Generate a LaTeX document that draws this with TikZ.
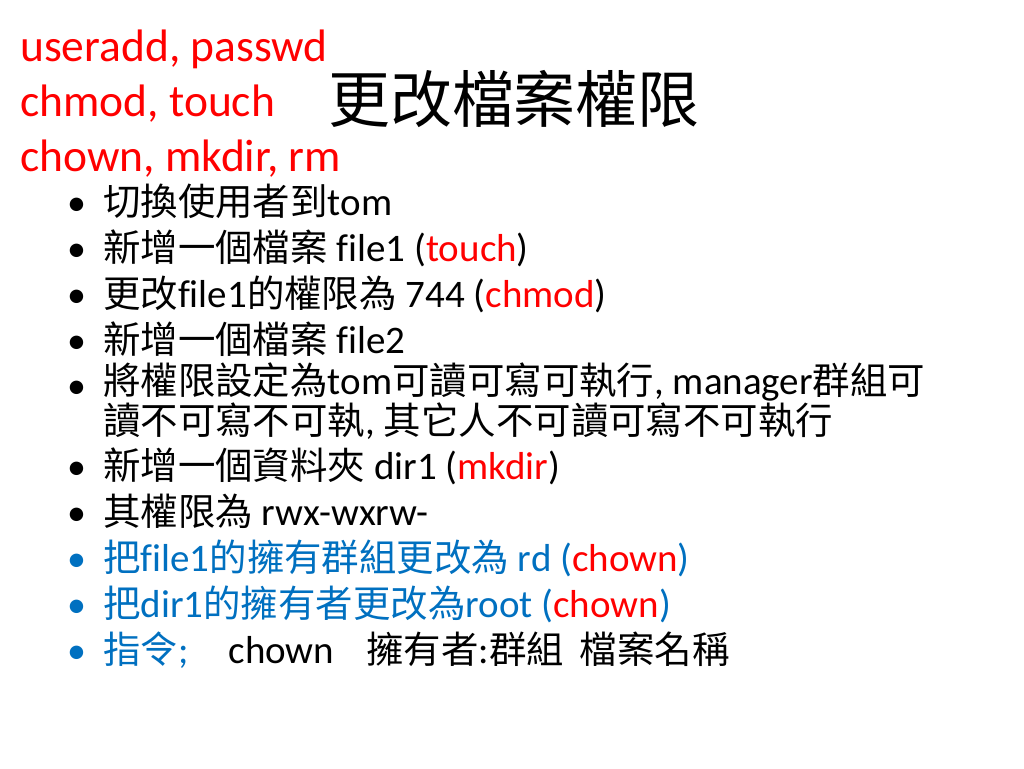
\documentclass[tikz,border=0pt]{standalone}
\usepackage{fontspec}
\setmainfont{Carlito}[Ligatures=NoCommon]
\newfontfamily\zh{Noto Sans CJK TC}[Scale=0.96]
\usetikzlibrary{positioning}
\definecolor{cmdred}{RGB}{255,0,0}
\definecolor{itemblue}{RGB}{0,112,192}
\newcommand{\cmd}[1]{\textcolor{cmdred}{#1}}

\begin{document}
\begin{tikzpicture}[x=1pt,y=-1pt]
			\tikzstyle{Cmds}	= [anchor=base west, inner sep=0pt, text=cmdred, font=\fontsize{45.5}{50}\selectfont]
			\tikzstyle{Title}	= [anchor=base west, inner sep=0pt, font=\zh\fontsize{64.5}{70}\selectfont]
			\tikzstyle{Dot}		= [anchor=base west, inner sep=0pt, font=\fontsize{38}{44}\selectfont]
			\tikzstyle{Item}	= [anchor=base west, inner sep=0pt, font=\fontsize{39}{36}\selectfont]
			\tikzstyle{Blue}	= [text=itemblue]
			
			\useasboundingbox [fill=white] (0,0) rectangle (1024,768);
			
			% commands and title
			\node (c1) at (20, 62) [Cmds] {useradd, passwd};
			\node (c2) at (20, 116) [Cmds] {chmod, touch};
			\node (c3) at (20, 171) [Cmds] {chown, mkdir, rm};
			\node (title) at (328, 122) [Title] {更改檔案權限};
			
			% bullets
			\foreach \y/\c [count=\i] in {215/black, 261/black, 307/black, 353/black, 398/black, 479/black, 525/black, 571/itemblue, 617/itemblue, 663/itemblue}
				\node (b\i) at (67, \y) [Dot, text=\c] {\textbullet};
			
			\node (t1) at (103, 215) [Item] {{\zh 切換使用者到}tom};
			\node (t2) at (103, 261) [Item] {{\zh 新增一個檔案} file1 (\cmd{touch})};
			\node (t3) at (103, 307) [Item] {{\zh 更改}file1{\zh 的權限為} 744 (\cmd{chmod})};
			\node (t4) at (103, 353) [Item] {{\zh 新增一個檔案} file2};
			% two lines, last baseline at 434
			\node (t5) at (103, 434) [Item, align=left] {{\zh 將權限設定為}tom{\zh 可讀可寫可執行}, manager{\zh 群組可}\\{\zh 讀不可寫不可執}, {\zh 其它人不可讀可寫不可執行}};
			\node (t6) at (103, 479) [Item] {{\zh 新增一個資料夾} dir1 (\cmd{mkdir})};
			\node (t7) at (103, 525) [Item] {{\zh 其權限為} rwx-wxrw-};
			\node (t8) at (103, 571) [Item, Blue] {{\zh 把}file1{\zh 的擁有群組更改為} rd (\cmd{chown})};
			\node (t9) at (103, 617) [Item, Blue] {{\zh 把}dir1{\zh 的擁有者更改為}root (\cmd{chown})};
			\node (t10) at (103, 663) [Item] {\textcolor{itemblue}{{\zh 指令};}\hspace{40pt}chown\hspace{32pt}{\zh 擁有者}:{\zh 群組}\hspace{16pt}{\zh 檔案名稱}};
		\end{tikzpicture}
\end{document}
